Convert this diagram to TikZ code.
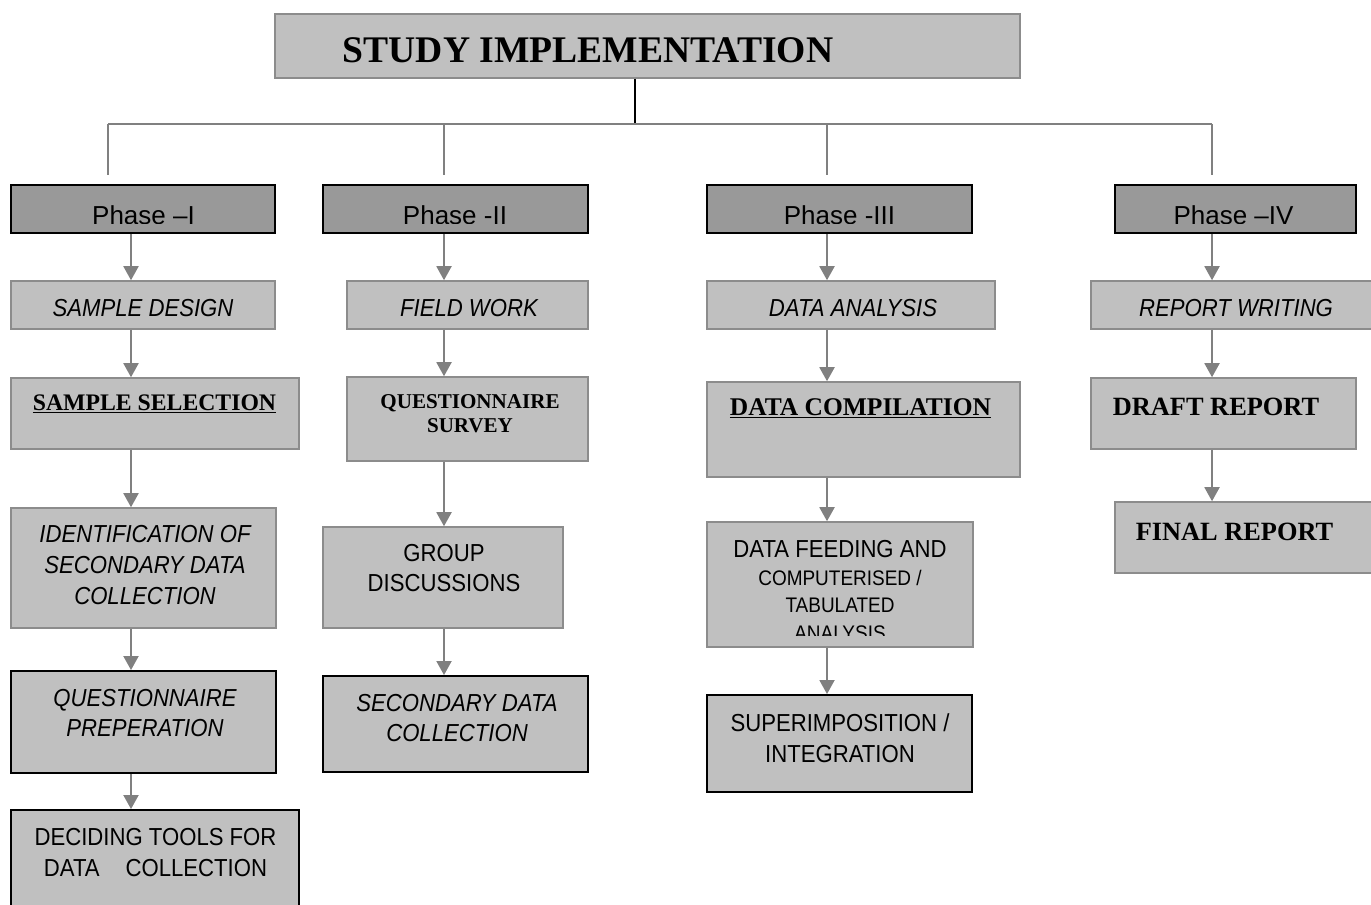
\documentclass[tikz,border=0pt]{standalone}
\usepackage{fontspec}
\setmainfont{Liberation Serif}
\newfontfamily\arial{Liberation Sans}
\newfontfamily\arialn[FakeStretch=0.9]{Liberation Sans}
\usetikzlibrary{arrows.meta,fit}

\definecolor{boxgray}{HTML}{C0C0C0}
\definecolor{phasegray}{HTML}{999999}
\definecolor{linegray}{HTML}{808080}
\definecolor{edgegray}{HTML}{8C8C8C}

\begin{document}
\begin{tikzpicture}[
    x=0.02cm, y=-0.02cm,
    lbox/.style={draw=edgegray, line width=0.9pt, fill=boxgray, inner sep=0pt},
    kbox/.style={draw=black, line width=1.1pt, fill=boxgray, inner sep=0pt},
    phase/.style={draw=black, line width=1.1pt, fill=phasegray, inner sep=0pt},
    ptxt/.style={anchor=base, inner sep=0pt, font=\arial\fontsize{14.8}{17}\selectfont},
    stxt/.style={align=center, inner sep=0pt, font=\arialn\fontsize{14}{17.5}\selectfont},
    itxt/.style={align=center, inner sep=0pt, font=\arialn\itshape\fontsize{14}{17.5}\selectfont},
    btxt/.style={anchor=base, inner sep=0pt, font=\bfseries\fontsize{15}{18}\selectfont},
    arrow/.style={-{Triangle[length=2.8mm, width=3mm]}, color=linegray, line width=1.1pt},
    tree/.style={draw=linegray, line width=0.9pt}
  ]
    \useasboundingbox (0,0) rectangle (1371,904);

    % heading and tree
    \node[lbox, fit={(275,14) (1020,78)}] (title) {};
    \node[btxt, font=\bfseries\fontsize{21.4}{25}\selectfont] (title-t) at (588,62) {STUDY IMPLEMENTATION};
    \coordinate (hub) at (635,124);
    \coordinate (t1) at (108,175);
    \coordinate (t2) at (444,175);
    \coordinate (t3) at (827,175);
    \coordinate (t4) at (1212,175);
    \draw[black, line width=0.8pt] (title.south -| hub) -- (hub);
    \draw[tree] (t1 |- hub) -- (t4 |- hub);
    \foreach \t in {t1,t2,t3,t4}
      \draw[tree] (\t |- hub) -- (\t);

    % phases
    \node[phase, fit={(11,185) (275,233)}] (pI) {};
    \node[phase, fit={(323,185) (588,233)}] (pII) {};
    \node[phase, fit={(707,185) (972,233)}] (pIII) {};
    \node[phase, fit={(1115,185) (1356,233)}] (pIV) {};
    \begin{scope}
      \clip (0,180) rectangle (1371,223);
      \node[ptxt] (pI-t) at (143.5,224) {Phase –I};
      \node[ptxt] (pII-t) at (455,224) {Phase -II};
      \node[ptxt] (pIII-t) at (839.5,224) {Phase -III};
      \node[ptxt] (pIV-t) at (1233.5,224) {Phase –IV};
    \end{scope}

    % phase I
    \node[lbox, fit={(11,281) (275,329)}] (sdes) {};
    \node[itxt] (sdes-t) at (143,308) {SAMPLE DESIGN};
    \node[lbox, fit={(11,378) (299,449)}] (ssel) {};
    \node[btxt, font=\bfseries\fontsize{13.5}{16}\selectfont] (ssel-t) at (154.5,410) {\underline{SAMPLE SELECTION}};
    \node[lbox, fit={(11,508) (276,628)}] (ident) {};
    \node[itxt] (ident-t) at (145,565) {IDENTIFICATION OF\\SECONDARY DATA\\COLLECTION};
    \node[kbox, fit={(11,671) (276,773)}] (qprep) {};
    \node[itxt] (qprep-t) at (145,713) {QUESTIONNAIRE\\PREPERATION};
    \node[kbox, fit={(11,810) (299,935)}] (decid) {};
    \node[stxt] (decid-t) at (155.5,852.5) {DECIDING TOOLS FOR\\DATA\hspace{0.52cm}COLLECTION};

    % phase II
    \node[lbox, fit={(347,281) (588,329)}] (fwork) {};
    \node[itxt] (fwork-t) at (469,308) {FIELD WORK};
    \node[lbox, fit={(347,377) (588,461)}] (qsur) {};
    \node[align=center, inner sep=0pt, font=\bfseries\fontsize{12}{13.6}\selectfont] (qsur-t) at (470,414) {QUESTIONNAIRE\\SURVEY};
    \node[lbox, fit={(323,527) (563,628)}] (group) {};
    \node[stxt] (group-t) at (444,568) {GROUP\\DISCUSSIONS};
    \node[kbox, fit={(323,676) (588,772)}] (secd) {};
    \node[itxt] (secd-t) at (457,718) {SECONDARY DATA\\COLLECTION};

    % phase III
    \node[lbox, fit={(707,281) (995,329)}] (danal) {};
    \node[itxt] (danal-t) at (853,308) {DATA ANALYSIS};
    \node[lbox, fit={(707,382) (1020,477)}] (dcomp) {};
    \node[btxt, font=\bfseries\fontsize{14.5}{17}\selectfont] (dcomp-t) at (860.5,415) {\underline{DATA COMPILATION}};
    \node[lbox, fit={(707,522) (973,647)}] (feed) {};
    \begin{scope}
      \clip (707,522) rectangle (973,635);
      \node[stxt, font=\arialn\fontsize{14}{15.8}\selectfont] (feed-t) at (840,590.5)
        {DATA FEEDING AND\\{\fontsize{12}{15.8}\selectfont COMPUTERISED /}\\{\fontsize{12}{15.8}\selectfont TABULATED}\\{\fontsize{12}{15.8}\selectfont ANALYSIS}};
    \end{scope}
    \node[kbox, fit={(707,695) (972,792)}] (sup) {};
    \node[stxt] (sup-t) at (840,738) {SUPERIMPOSITION /\\INTEGRATION};

    % phase IV
    \node[lbox, fit={(1091,281) (1374,329)}] (rwrit) {};
    \node[itxt] (rwrit-t) at (1236,308) {REPORT WRITING};
    \node[lbox, fit={(1091,378) (1356,449)}] (draft) {};
    \node[btxt] (draft-t) at (1216,415) {DRAFT REPORT};
    \node[lbox, fit={(1115,502) (1374,573)}] (final) {};
    \node[btxt] (final-t) at (1234.5,540) {FINAL REPORT};

    % arrows down each column
    \coordinate (c1) at (131,0);
    \coordinate (c2) at (444,0);
    \coordinate (c3) at (827,0);
    \coordinate (c4) at (1212,0);
    \foreach \a/\b in {pI/sdes, sdes/ssel, ssel/ident, ident/qprep, qprep/decid}
      \draw[arrow] (\a.south -| c1) -- (\b.north -| c1);
    \foreach \a/\b in {pII/fwork, fwork/qsur, qsur/group, group/secd}
      \draw[arrow] (\a.south -| c2) -- (\b.north -| c2);
    \foreach \a/\b in {pIII/danal, danal/dcomp, dcomp/feed, feed/sup}
      \draw[arrow] (\a.south -| c3) -- (\b.north -| c3);
    \foreach \a/\b in {pIV/rwrit, rwrit/draft, draft/final}
      \draw[arrow] (\a.south -| c4) -- (\b.north -| c4);
  \end{tikzpicture}
\end{document}
